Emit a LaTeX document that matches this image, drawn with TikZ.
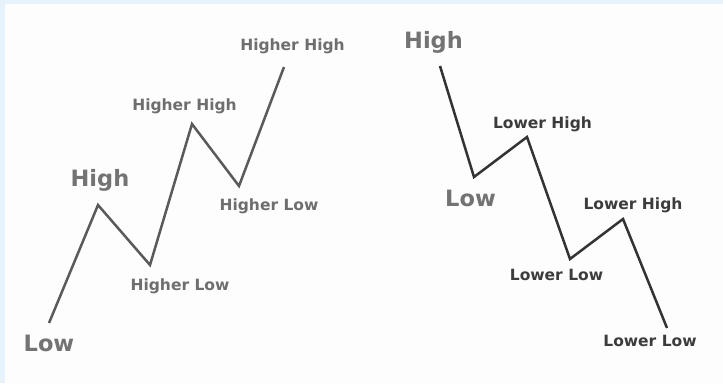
\documentclass[tikz,border=0pt]{standalone}
\usepackage{fontspec}
\setmainfont{DejaVu Sans}
\begin{document}
\begin{tikzpicture}[x=1pt,y=-1pt,
  lbl/.style={anchor=base,inner sep=0pt,font=\bfseries\fontsize{15.5}{16}\selectfont},
  big/.style={anchor=base,inner sep=0pt,font=\bfseries\fontsize{22.5}{24}\selectfont,text=biggray},
  upline/.style={draw=upgray,line width=2.5pt,line join=miter},
  downline/.style={draw=downgray,line width=2.5pt,line join=miter}]
\definecolor{biggray}{HTML}{737373}
\definecolor{upgray}{HTML}{5A5A5A}
\definecolor{uptext}{HTML}{6E6E6E}
\definecolor{downgray}{HTML}{333333}
\definecolor{downtext}{HTML}{3C3C3C}
\definecolor{edgeblue}{HTML}{E6F3FC}
\definecolor{paper}{HTML}{FDFDFD}
\fill[edgeblue] (0,0) rectangle (723,383);
\fill[paper] (5,4) rectangle (723,383);
\useasboundingbox (0,0) rectangle (723,383);
% up trend
\coordinate (u0) at (49,323);
\coordinate (u1) at (98,205);
\coordinate (u2) at (150,265);
\coordinate (u3) at (192,124);
\coordinate (u4) at (239,186);
\coordinate (u5) at (284,67);
\draw[upline] (u0) -- (u1) -- (u2) -- (u3) -- (u4) -- (u5);
\node[big] (ulow) at (49,351.5) {Low};
\node[big] (uhigh) at (100,186.5) {High};
\node[lbl,text=uptext] (uhl1) at (180,290) {Higher Low};
\node[lbl,text=uptext] (uhh1) at (184.5,110) {Higher High};
\node[lbl,text=uptext] (uhl2) at (269,210.5) {Higher Low};
\node[lbl,text=uptext] (uhh2) at (292.5,50.5) {Higher High};
% down trend
\coordinate (d0) at (440,66);
\coordinate (d1) at (474,177);
\coordinate (d2) at (527,137);
\coordinate (d3) at (570,259);
\coordinate (d4) at (623,219);
\coordinate (d5) at (667,328);
\draw[downline] (d0) -- (d1) -- (d2) -- (d3) -- (d4) -- (d5);
\node[big] (dhigh) at (433.5,48.3) {High};
\node[big] (dlow) at (470.5,206.5) {Low};
\node[lbl,text=downtext] (dlh1) at (542.5,128.3) {Lower High};
\node[lbl,text=downtext] (dlh2) at (633,209.3) {Lower High};
\node[lbl,text=downtext] (dll1) at (556.5,280) {Lower Low};
\node[lbl,text=downtext] (dll2) at (650,346.7) {Lower Low};
\end{tikzpicture}
\end{document}
